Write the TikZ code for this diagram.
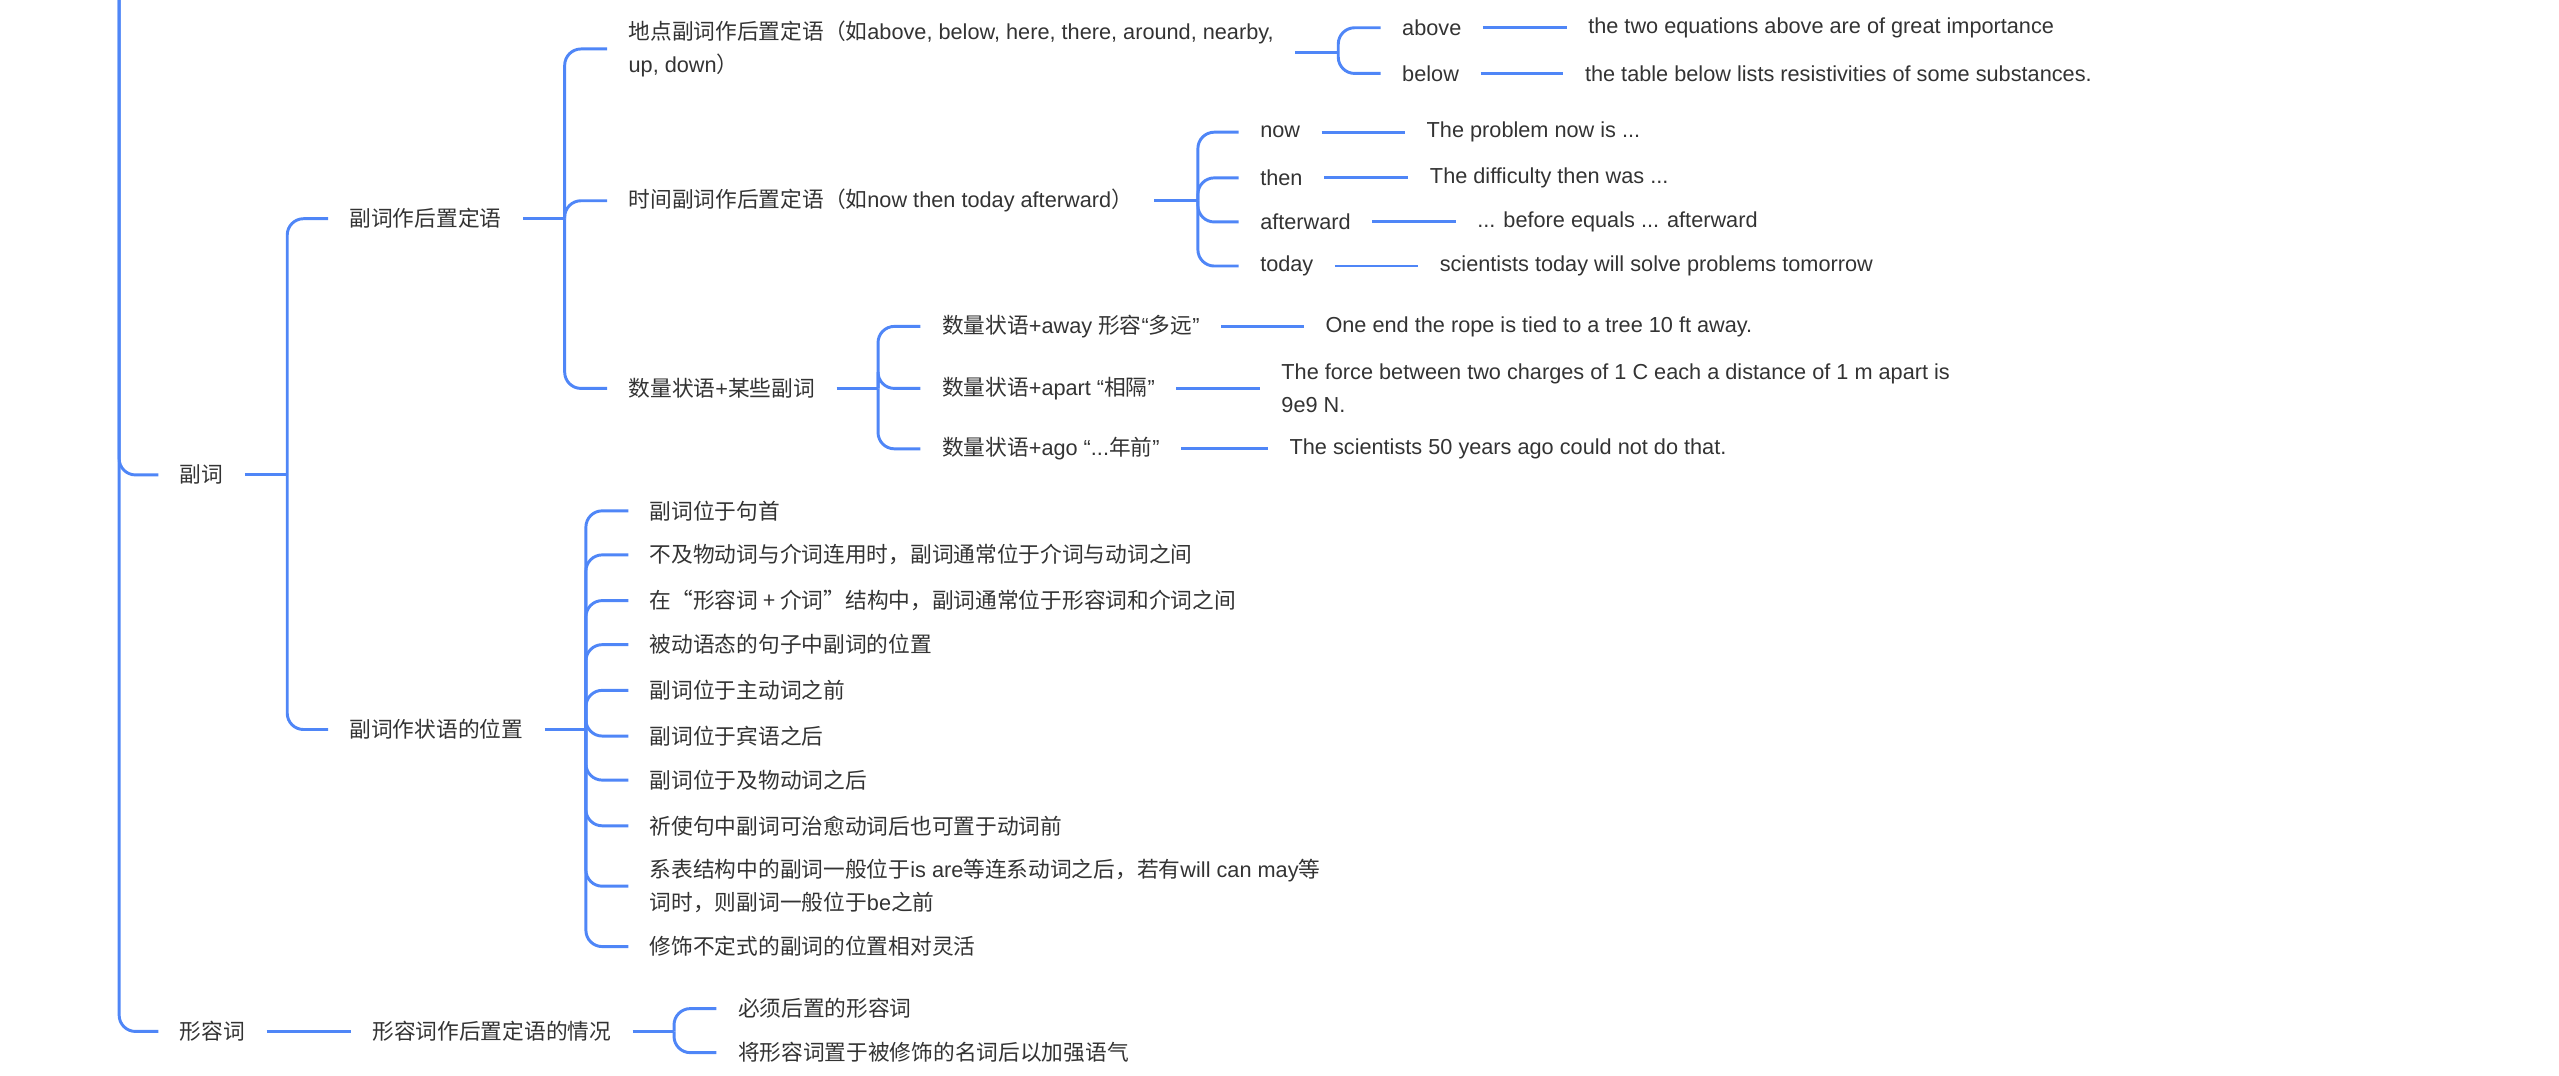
\documentclass[tikz,border=0pt]{standalone}
\usepackage{fontspec}
\setmainfont{Liberation Sans}
\newfontfamily\cjk{Noto Sans CJK SC}
\newcommand\zh[1]{{\cjk #1}}
\newcommand\mapsize{\fontsize{13.3}{20}\selectfont}
\usetikzlibrary{calc}
\definecolor{mapblue}{RGB}{79,134,247}
\definecolor{ink}{RGB}{51,51,51}
\tikzset{
  link/.style={draw=mapblue, line width=1.8pt, rounded corners=10pt},
  topic/.style={anchor=west, inner xsep=13pt, inner ysep=2pt, align=left,
                text=ink, font=\mapsize},
  zhtopic/.style={topic, font=\mapsize\cjk},
}

\begin{document}
\begin{tikzpicture}[x=1pt, y=-1pt]
  \useasboundingbox (0,0) rectangle (1568,659);

  % level 1
  \coordinate (root) at (73,0);
  \node[zhtopic] (adv) at (97,291) {副词};
  \node[zhtopic] (adj) at (97,632) {形容词};

  % adverbs
  \node[zhtopic] (post) at (201,134) {副词作后置定语};
  \node[zhtopic] (pos)  at (201,447) {副词作状语的位置};

  \node[topic] (place) at (372,30)
    {\zh{地点副词作后置定语（如}above, below, here, there, around, nearby,\\up, down\zh{）}};
  \node[topic] (time) at (372,123) {\zh{时间副词作后置定语（如}now then today afterward\zh{）}};
  \node[topic] (num)  at (372,238) {\zh{数量状语}+\zh{某些副词}};

  \node[topic] (above) at (846,17) {above};
  \node[topic] (below) at (846,45) {below};
  \node[topic] (abex)  at (960,17) {the two equations above are of great importance};
  \node[topic] (beex)  at (958,45) {the table below lists resistivities of some substances.};

  \node[topic] (now)   at (759,81)  {now};
  \node[topic] (then)  at (759,109) {then};
  \node[topic] (aft)   at (759,136) {afterward};
  \node[topic] (today) at (759,163) {today};
  \node[topic] (nowex) at (861,81)  {The problem now is ...};
  \node[topic] (thex)  at (863,109) {The difficulty then was ...};
  \node[topic] (aftex) at (892,136) {... before equals ... afterward};
  \node[topic] (todex) at (869,163) {scientists today will solve problems tomorrow};

  \node[topic] (away)  at (564,200) {\zh{数量状语}+away \zh{形容}“\zh{多远}”};
  \node[topic] (apart) at (564,238) {\zh{数量状语}+apart “\zh{相隔}”};
  \node[topic] (ago)   at (564,275) {\zh{数量状语}+ago “...\zh{年前}”};
  \node[topic] (awex)  at (799,200) {One end the rope is tied to a tree 10 ft away.};
  \node[topic] (apex)  at (772,238)
    {The force between two charges of 1 C each a distance of 1 m apart is\\9e9 N.};
  \node[topic] (agoex) at (777,275) {The scientists 50 years ago could not do that.};

  \node[zhtopic] (p1)  at (385,313) {副词位于句首};
  \node[zhtopic] (p2)  at (385,340) {不及物动词与介词连用时，副词通常位于介词与动词之间};
  \node[zhtopic] (p3)  at (385,368) {在“形容词 + 介词”结构中，副词通常位于形容词和介词之间};
  \node[zhtopic] (p4)  at (385,395) {被动语态的句子中副词的位置};
  \node[zhtopic] (p5)  at (385,423) {副词位于主动词之前};
  \node[zhtopic] (p6)  at (385,451) {副词位于宾语之后};
  \node[zhtopic] (p7)  at (385,478) {副词位于及物动词之后};
  \node[zhtopic] (p8)  at (385,506) {祈使句中副词可治愈动词后也可置于动词前};
  \node[topic]   (p9)  at (385,543)
    {\zh{系表结构中的副词一般位于}is are\zh{等连系动词之后，若有}will can may\zh{等}\\\zh{词时，则副词一般位于}be\zh{之前}};
  \node[zhtopic] (p10) at (385,580) {修饰不定式的副词的位置相对灵活};

  % adjectives
  \node[zhtopic] (adjpost) at (215,632) {形容词作后置定语的情况};
  \node[zhtopic] (a1) at (439,618) {必须后置的形容词};
  \node[zhtopic] (a2) at (439,645) {将形容词置于被修饰的名词后以加强语气};

  % brackets
  \coordinate (b-adv)   at (176,291);
  \coordinate (b-post)  at (346,134);
  \coordinate (b-place) at (820,32);
  \coordinate (b-time)  at (734,123);
  \coordinate (b-num)   at (538,238);
  \coordinate (b-pos)   at (359,447);
  \coordinate (b-adj)   at (413,632);

  \draw[link] (root) |- (adv.west);
  \draw[link] (root) |- (adj.west);

  \draw[link] (adv.east) -- (b-adv);
  \draw[link] (b-adv) |- (post.west);
  \draw[link] (b-adv) |- (pos.west);

  \draw[link] (post.east) -- (b-post);
  \draw[link] (b-post) |- (place.west);
  \draw[link] (b-post) |- (time.west);
  \draw[link] (b-post) |- (num.west);

  \draw[link] (place.east |- b-place) -- (b-place);
  \draw[link] (b-place) |- (above.west);
  \draw[link] (b-place) |- (below.west);
  \draw[link] (above) -- (abex);
  \draw[link] (below) -- (beex);

  \draw[link] (time.east) -- (b-time);
  \foreach \a/\b in {now/nowex, then/thex, aft/aftex, today/todex} {
    \draw[link] (b-time) |- (\a.west);
    \draw[link] (\a) -- (\b);
  }

  \draw[link] (num.east) -- (b-num);
  \foreach \a/\b in {away/awex, apart/apex, ago/agoex} {
    \draw[link] (b-num) |- (\a.west);
    \draw[link] (\a) -- (\b);
  }

  \draw[link] (pos.east) -- (b-pos);
  \foreach \i in {1,...,10}
    \draw[link] (b-pos) |- (p\i.west);

  \draw[link] (adj) -- (adjpost);
  \draw[link] (adjpost.east) -- (b-adj);
  \draw[link] (b-adj) |- (a1.west);
  \draw[link] (b-adj) |- (a2.west);
\end{tikzpicture}
\end{document}
